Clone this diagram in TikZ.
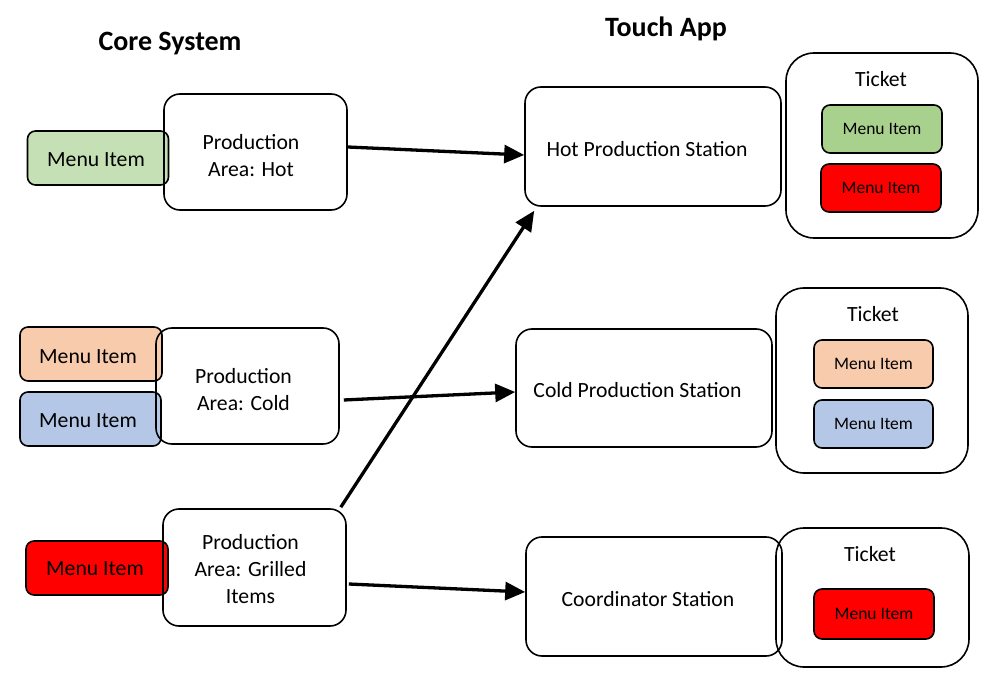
\documentclass[tikz,border=0pt]{standalone}
\usepackage{fontspec}
\setmainfont{Carlito}
\usetikzlibrary{arrows.meta,calc}
\definecolor{mgreen}{HTML}{C5E0B4}
\definecolor{mgreenb}{HTML}{A9D18E}
\definecolor{morange}{HTML}{F8CBAD}
\definecolor{mblue}{HTML}{B4C7E7}
\definecolor{mred}{HTML}{FF0000}
\tikzset{
  bigbox/.style={draw, line width=1.6pt, rounded corners=16pt, align=center, inner sep=0pt,
    font=\fontsize{21.7}{27}\selectfont},
  ticketbox/.style={draw, line width=1.6pt, rounded corners=28pt, inner sep=0pt},
  mitem/.style={draw, line width=1.6pt, rounded corners=8pt, inner sep=0pt,
    minimum width=141pt, minimum height=54pt},
  smitem/.style={draw, line width=1.6pt, rounded corners=8pt, inner sep=0pt,
    minimum width=120pt, minimum height=48pt, font=\fontsize{17.5}{21}\selectfont},
  lbl/.style={inner sep=0pt, align=center, font=\fontsize{21.7}{27}\selectfont},
  ttl/.style={inner sep=0pt, font=\fontsize{28}{34}\selectfont\bfseries},
  arr/.style={line width=3.3pt, -{Triangle[length=20pt,width=18pt]}}
}
\begin{document}
\begin{tikzpicture}[x=1pt,y=-1pt]
\useasboundingbox (0,0) rectangle (994,679);
% titles
\node[ttl] (core) at (170,44) {Core System};
\node[ttl] (touch) at (666,29) {Touch App};
% left menu items
\node[mitem, fill=mgreen] (m1) at (98,158) {};
\node[lbl] (m1l) at (96,160) {Menu Item};
\node[mitem, fill=morange, minimum width=142pt] (m2) at (91,354) {};
\node[lbl] (m2l) at (88,357) {Menu Item};
\node[mitem, fill=mblue] (m3) at (90.5,419) {};
\node[lbl] (m3l) at (88,421) {Menu Item};
\node[mitem, fill=mred, minimum width=142pt] (m4) at (97,568) {};
\node[lbl] (m4l) at (95,569) {Menu Item};
% production areas
\node[bigbox, minimum width=183pt, minimum height=116pt] (pha) at (255.5,152) {};
\node[lbl] (phal) at (251,156) {Production\\Area: Hot};
\node[bigbox, minimum width=183pt, minimum height=116pt] (pca) at (247.5,386) {};
\node[lbl] (pcal) at (243.5,390) {Production\\Area: Cold};
\node[bigbox, minimum width=183pt, minimum height=117pt] (pga) at (254.5,567.5) {};
\node[lbl] (pgal) at (250.5,569) {Production\\Area: Grilled\\Items};
% stations
\node[bigbox, minimum width=256pt, minimum height=119pt] (hps) at (653,146.5) {};
\node[lbl] (hpst) at (647,149) {Hot Production Station};
\node[bigbox, minimum width=256pt, minimum height=118pt] (cps) at (644,388) {};
\node[lbl] (cpst) at (637.5,390) {Cold Production Station};
\node[bigbox, minimum width=256pt, minimum height=119pt] (crs) at (654,596.5) {};
\node[lbl] (crst) at (648,599) {Coordinator Station};
% tickets
\node[ticketbox, minimum width=192pt, minimum height=185pt] (t1) at (882,145.5) {};
\node[lbl] (t1l) at (881,79) {Ticket};
\node[smitem, fill=mgreenb] (t1a) at (882,129) {Menu Item};
\node[smitem, fill=mred] (t1b) at (881,188) {Menu Item};
\node[ticketbox, minimum width=192pt, minimum height=185pt] (t2) at (872,380.5) {};
\node[lbl] (t2l) at (873,314) {Ticket};
\node[smitem, fill=morange, minimum width=119pt] (t2a) at (873.5,364) {Menu Item};
\node[smitem, fill=mblue, minimum width=119pt] (t2b) at (873.5,424) {Menu Item};
\node[ticketbox, minimum width=193pt, minimum height=139pt] (t3) at (872.5,597.5) {};
\node[lbl] (t3l) at (870,554) {Ticket};
\node[smitem, fill=mred, minimum height=50pt] (t3a) at (874,614) {Menu Item};
% arrows
\draw[arr] ($(pha.east)+(0,-5)$) -- ($(hps.west)+(0,8.5)$);
\draw[arr] ($(pca.east)+(4,14)$) -- ($(cps.west)+(0,4)$);
\draw[arr] ($(pga.north east)+(-6,-1)$) -- ($(hps.south west)+(10,4)$);
\draw[arr] ($(pga.east)+(2,16.5)$) -- ($(crs.west)+(0,-4.5)$);
\end{tikzpicture}
\end{document}
